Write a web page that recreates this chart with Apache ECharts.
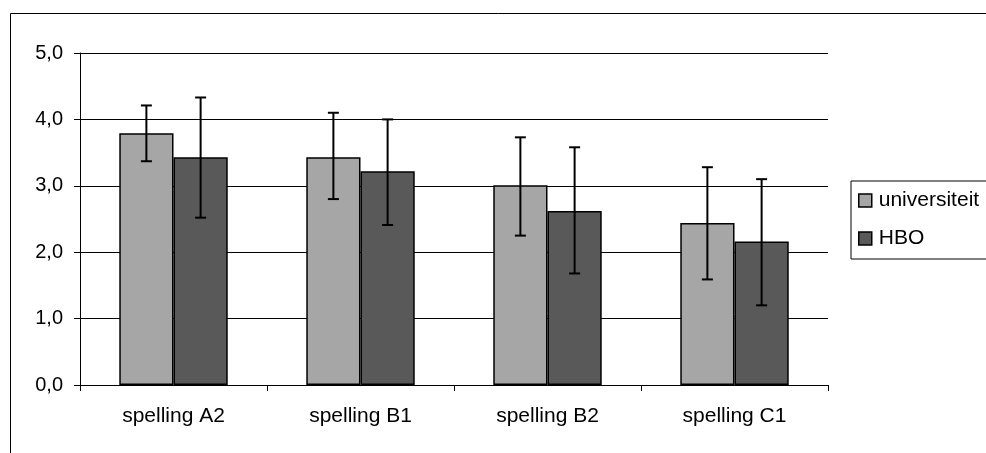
<!DOCTYPE html>
<html>
<head>
<meta charset="utf-8">
<script src="https://cdn.jsdelivr.net/npm/echarts@6/dist/echarts.min.js"></script>
<style>
html,body{margin:0;padding:0;background:#fff;}
#c{width:986px;height:453px;}
</style>
</head>
<body>
<div id="c"></div>
<script>
var categories = ['spelling A2', 'spelling B1', 'spelling B2', 'spelling C1'];
var seriesNames = ['universiteit', 'HBO'];
var univValues = [3.79, 3.43, 3.01, 2.44];
var univLow = [3.37, 2.80, 2.25, 1.59];
var univHigh = [4.21, 4.10, 3.73, 3.28];
var hboValues = [3.43, 3.22, 2.62, 2.16];
var hboLow = [2.52, 2.41, 1.68, 1.20];
var hboHigh = [4.33, 4.00, 3.58, 3.10];
var yTicks = [0, 1, 2, 3, 4, 5];

var CAT_GAP = 0.42;
var FONT = 'Liberation Sans, Arial, sans-serif';

function errData(low, high) {
  return categories.map(function (c, i) { return [i, low[i], high[i]]; });
}
function makeErr(sign) {
  return function (params, api) {
    var x = api.value(0);
    var lo = api.coord([x, api.value(1)]);
    var hi = api.coord([x, api.value(2)]);
    var band = api.size([1, 0])[0];
    var bw = band * (1 - CAT_GAP) / 2;
    var cx = lo[0] + sign * bw / 2;
    var cap = 5.5;
    var st = { stroke: '#000', lineWidth: 2 };
    return {
      type: 'group',
      children: [
        { type: 'line', shape: { x1: cx, y1: hi[1], x2: cx, y2: lo[1] }, style: st },
        { type: 'line', shape: { x1: cx - cap, y1: hi[1], x2: cx + cap, y2: hi[1] }, style: st },
        { type: 'line', shape: { x1: cx - cap, y1: lo[1], x2: cx + cap, y2: lo[1] }, style: st }
      ]
    };
  };
}

var chart = echarts.init(document.getElementById('c'), null, { renderer: 'canvas' });
chart.setOption({
  animation: false,
  backgroundColor: '#fff',
  textStyle: { fontFamily: FONT },
  graphic: [
    { type: 'rect', shape: { x: 10.5, y: 13.5, width: 1200, height: 800 },
      style: { fill: 'none', stroke: '#000', lineWidth: 1 }, z: -10 }
  ],
  grid: { left: 80, right: 158, top: 53, bottom: 68 },
  legend: {
    orient: 'vertical',
    left: 851,
    top: 181,
    padding: [9, 40, 10, 7],
    itemGap: 17,
    itemWidth: 13,
    itemHeight: 13,
    icon: 'rect',
    borderColor: '#000',
    borderWidth: 1,
    itemStyle: { borderColor: '#000', borderWidth: 1.5 },
    textStyle: { fontSize: 21, color: '#000', fontFamily: FONT, padding: [0, 0, 0, 2] },
    data: seriesNames
  },
  xAxis: {
    type: 'category',
    data: categories,
    axisLine: { lineStyle: { color: '#000', width: 1 } },
    axisTick: { show: true, length: 6, lineStyle: { color: '#000' } },
    axisLabel: { color: '#000', fontSize: 21, margin: 21, fontFamily: FONT }
  },
  yAxis: {
    type: 'value',
    min: 0, max: 5, interval: 1,
    axisLine: { show: true, lineStyle: { color: '#000', width: 1 } },
    axisTick: { show: true, length: 6, lineStyle: { color: '#000' } },
    splitLine: { show: true, lineStyle: { color: '#000', width: 1 } },
    axisLabel: {
      color: '#000', fontSize: 20, margin: 17, fontFamily: FONT,
      formatter: function (v) { return v.toFixed(1).replace('.', ','); }
    }
  },
  series: [
    {
      name: seriesNames[0], type: 'bar', data: univValues,
      barGap: '0%', barCategoryGap: (CAT_GAP * 100) + '%',
      itemStyle: { color: '#a6a6a6', borderColor: '#000', borderWidth: 1.5 }
    },
    {
      name: seriesNames[1], type: 'bar', data: hboValues,
      barGap: '0%', barCategoryGap: (CAT_GAP * 100) + '%',
      itemStyle: { color: '#595959', borderColor: '#000', borderWidth: 1.5 }
    },
    {
      type: 'custom', renderItem: makeErr(-1), data: errData(univLow, univHigh),
      encode: { x: 0, y: [1, 2] }, z: 10, silent: true
    },
    {
      type: 'custom', renderItem: makeErr(1), data: errData(hboLow, hboHigh),
      encode: { x: 0, y: [1, 2] }, z: 10, silent: true
    }
  ]
});
</script>
</body>
</html>
